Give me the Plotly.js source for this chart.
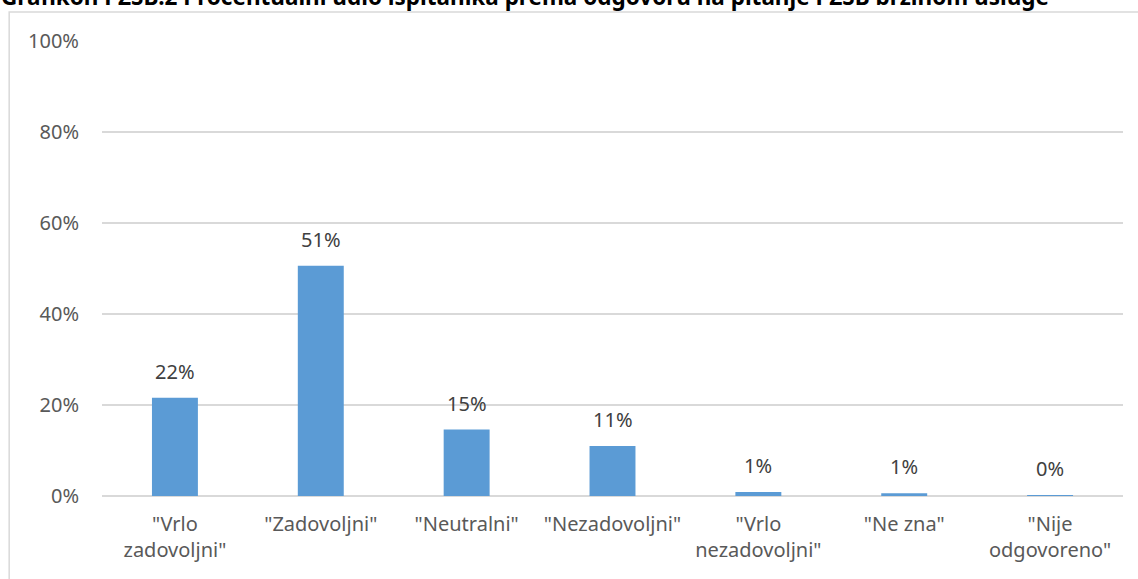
<!DOCTYPE html>
<html>
<head>
<meta charset="utf-8">
<script src="https://cdn.plot.ly/plotly-3.0.1.min.js"></script>
<style>
html,body{margin:0;padding:0;background:#fff;}
#chart{width:1138px;height:579px;}
</style>
</head>
<body>
<div id="chart"></div>
<script>
var categories = ['"Vrlo<br>zadovoljni"', '"Zadovoljni"', '"Neutralni"', '"Nezadovoljni"', '"Vrlo<br>nezadovoljni"', '"Ne zna"', '"Nije<br>odgovoreno"'];
var values = [21.6, 50.6, 14.6, 11.0, 0.9, 0.6, 0.2];
var valueLabels = ['22%', '51%', '15%', '11%', '1%', '1%', '0%'];
var yTickVals = [0, 20, 40, 60, 80, 100];
var yTickText = ['0%', '20%', '40%', '60%', '80%', '100%'];
var titleText = 'Grafikon PZSB.2 Procentualni udio ispitanika prema odgovoru na pitanje PZSB brzinom usluge';

var FONT = '"Noto Sans", "Open Sans", sans-serif';

var trace = {
  type: 'bar',
  x: categories,
  y: values,
  marker: {color: '#5B9BD5'},
  hoverinfo: 'skip'
};

var annotations = categories.map(function(c, i){
  return {
    x: c, y: values[i], xref: 'x', yref: 'y',
    text: valueLabels[i], showarrow: false,
    yanchor: 'bottom', yshift: 11,
    font: {family: FONT, size: 20, color: '#404040'}
  };
});
annotations.push({
  x: 0, xref: 'paper', xanchor: 'left',
  y: 1, yref: 'paper', yanchor: 'bottom', yshift: 27,
  text: '<b>' + titleText + '</b>', showarrow: false,
  font: {family: FONT, size: 22.5, color: '#000000'},
  xshift: -103
});

var layout = {
  width: 1138, height: 579,
  margin: {l: 102, r: 15, t: 41, b: 83},
  paper_bgcolor: '#ffffff',
  plot_bgcolor: '#ffffff',
  showlegend: false,
  bargap: 0.685,
  xaxis: {
    type: 'category',
    showgrid: false,
    zeroline: false,
    showline: false,
    ticks: '',
    ticklabelstandoff: 14,
    tickfont: {family: FONT, size: 20, color: '#595959'}
  },
  yaxis: {
    range: [0, 100],
    tickvals: yTickVals,
    ticktext: yTickText,
    showgrid: true,
    gridcolor: '#D9D9D9',
    gridwidth: 1.3,
    zeroline: true,
    zerolinecolor: '#D9D9D9',
    zerolinewidth: 1.3,
    showline: false,
    ticks: '',
    ticklabelstandoff: 22,
    tickfont: {family: FONT, size: 20, color: '#595959'}
  },
  shapes: [{
    type: 'rect', xref: 'paper', yref: 'paper',
    x0: -0.0909, x1: 1.2, y0: -0.5, y1: 1.0637,
    line: {color: '#D9D9D9', width: 1.5},
    fillcolor: 'rgba(0,0,0,0)', layer: 'below'
  }],
  annotations: annotations
};

Plotly.newPlot('chart', [trace], layout, {displayModeBar: false, staticPlot: true});
</script>
</body>
</html>
